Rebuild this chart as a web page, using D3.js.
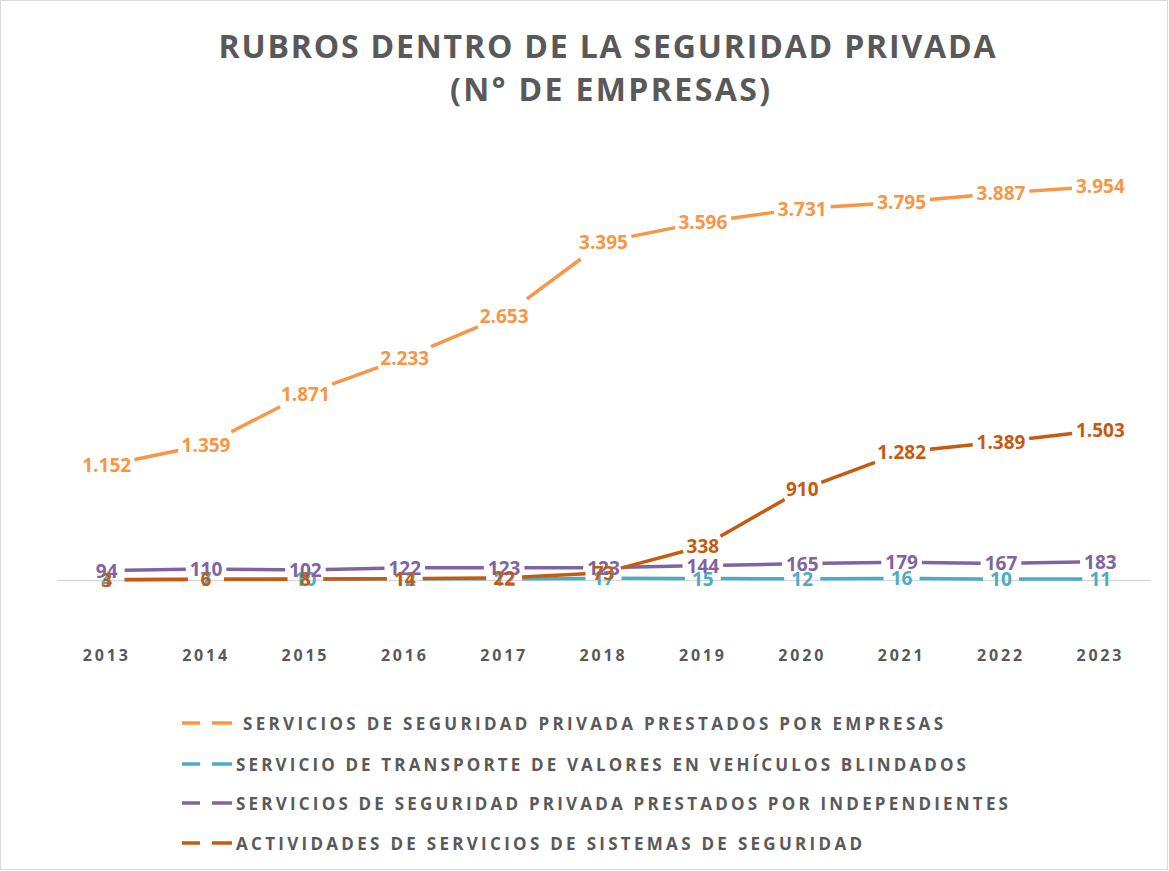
<!DOCTYPE html>
<html>
<head>
<meta charset="utf-8">
<script src="https://cdn.jsdelivr.net/npm/d3@7"></script>
<style>
  body { margin: 0; background: #fff; }
  text { font-family: "Open Sans", "Noto Sans", sans-serif; font-weight: 700; }
</style>
</head>
<body>
<div id="wrapper"></div>
<script>
// data
const years = ["2013", "2014", "2015", "2016", "2017", "2018", "2019", "2020", "2021", "2022", "2023"];
const empresas = [1152, 1359, 1871, 2233, 2653, 3395, 3596, 3731, 3795, 3887, 3954];
const blindados = [4, 7, 10, 12, 12, 17, 15, 12, 16, 10, 11];
const independientes = [94, 110, 102, 122, 123, 123, 144, 165, 179, 167, 183];
const sistemas = [3, 6, 8, 14, 22, 73, 338, 910, 1282, 1389, 1503];
const seriesNames = [
  "SERVICIOS DE SEGURIDAD PRIVADA PRESTADOS POR EMPRESAS",
  "SERVICIO DE TRANSPORTE DE VALORES EN VEHÍCULOS BLINDADOS",
  "SERVICIOS DE SEGURIDAD PRIVADA PRESTADOS POR INDEPENDIENTES",
  "ACTIVIDADES DE SERVICIOS DE SISTEMAS DE SEGURIDAD"
];
const seriesColors = ["#F79646", "#4BACC6", "#8064A2", "#C55A11"];

const series = [empresas, blindados, independientes, sistemas].map((values, i) => ({
  name: seriesNames[i],
  color: seriesColors[i],
  values: values
}));

const dimensions = {
  width: 1169,
  height: 871,
  margin: { top: 132, right: 19, bottom: 291, left: 57 }
};
dimensions.boundleWidth = dimensions.width - dimensions.margin.left - dimensions.margin.right;
dimensions.boundleHeight = dimensions.height - dimensions.margin.top - dimensions.margin.bottom;

const svg = d3.select("#wrapper").append("svg")
  .attr("width", dimensions.width)
  .attr("height", dimensions.height);

// chart border
svg.append("rect")
  .attr("x", 0.5).attr("y", 0.5)
  .attr("width", dimensions.width - 2).attr("height", dimensions.height - 2)
  .attr("fill", "#fff").attr("stroke", "#D9D9D9");

// title
const title = svg.append("g").attr("fill", "#595959").attr("text-anchor", "middle");
title.append("text").attr("x", 607).attr("y", 58).attr("font-size", 32)
  .attr("textLength", 777).attr("lengthAdjust", "spacing")
  .text("RUBROS DENTRO DE LA SEGURIDAD PRIVADA");
title.append("text").attr("x", 610).attr("y", 101).attr("font-size", 32)
  .attr("textLength", 320).attr("lengthAdjust", "spacing")
  .text("(N° DE EMPRESAS)");

const bounds = svg.append("g")
  .attr("transform", `translate(${dimensions.margin.left},${dimensions.margin.top})`);

const xScale = d3.scaleBand().domain(years).range([0, dimensions.boundleWidth]);
const xPos = (i) => xScale(years[i]) + xScale.bandwidth() / 2;
const yScale = d3.scaleLinear().domain([0, 4500]).range([dimensions.boundleHeight, 0]);

// baseline axis
const xAxis = bounds.append("g")
  .attr("transform", `translate(0,${dimensions.boundleHeight})`)
  .call(d3.axisBottom(xScale).tickSize(0).tickPadding(70));
xAxis.select(".domain").attr("stroke", "#D9D9D9").attr("stroke-width", 1.5);
xAxis.selectAll(".tick text")
  .attr("fill", "#595959")
  .attr("font-size", 16)
  .attr("letter-spacing", 2.8)
  .attr("font-family", "'Open Sans', sans-serif")
  .attr("font-weight", 700);

const fmt = (v) => d3.format(",")(v).replace(/,/g, ".");

const linesG = bounds.append("g");
const labelsG = bounds.append("g");

series.forEach((s) => {
  const labels = labelsG.append("g").selectAll("text")
    .data(s.values)
    .join("text")
    .attr("x", (d, i) => xPos(i))
    .attr("y", (d) => yScale(d))
    .attr("text-anchor", "middle")
    .attr("dominant-baseline", "central")
    .attr("font-size", 19)
    .attr("fill", s.color)
    .text((d) => fmt(d));

  const halfW = labels.nodes().map((n) => Math.max(n.getComputedTextLength() / 2 + 4, 18));

  const segs = d3.pairs(s.values.map((v, i) => ({ x: xPos(i), y: yScale(v), h: halfW[i] })));
  linesG.append("g").selectAll("line")
    .data(segs)
    .join("line")
    .each(function ([a, b]) {
      const dx = b.x - a.x, dy = b.y - a.y;
      const len = Math.hypot(dx, dy);
      const ux = dx / len, uy = dy / len;
      d3.select(this)
        .attr("x1", a.x + ux * a.h).attr("y1", a.y + uy * a.h)
        .attr("x2", b.x - ux * b.h).attr("y2", b.y - uy * b.h);
    })
    .attr("stroke", s.color)
    .attr("stroke-width", 3.5);
});

// legend
const legendY = [723, 764, 803, 843];
const legendTextX = [243, 236, 236, 236];
const legendTextW = [700, 730, 772, 626];
const legend = svg.append("g");
series.forEach((s, i) => {
  const g = legend.append("g").attr("transform", `translate(0,${legendY[i]})`);
  g.append("line").attr("x1", 182).attr("x2", 200).attr("y1", 0).attr("y2", 0)
    .attr("stroke", s.color).attr("stroke-width", 3.5);
  g.append("line").attr("x1", 212).attr("x2", 232).attr("y1", 0).attr("y2", 0)
    .attr("stroke", s.color).attr("stroke-width", 3.5);
  g.append("text").attr("x", legendTextX[i]).attr("y", 0)
    .attr("dominant-baseline", "central")
    .attr("font-size", 17).attr("fill", "#595959")
    .attr("textLength", legendTextW[i]).attr("lengthAdjust", "spacing")
    .text(s.name);
});
</script>
</body>
</html>
